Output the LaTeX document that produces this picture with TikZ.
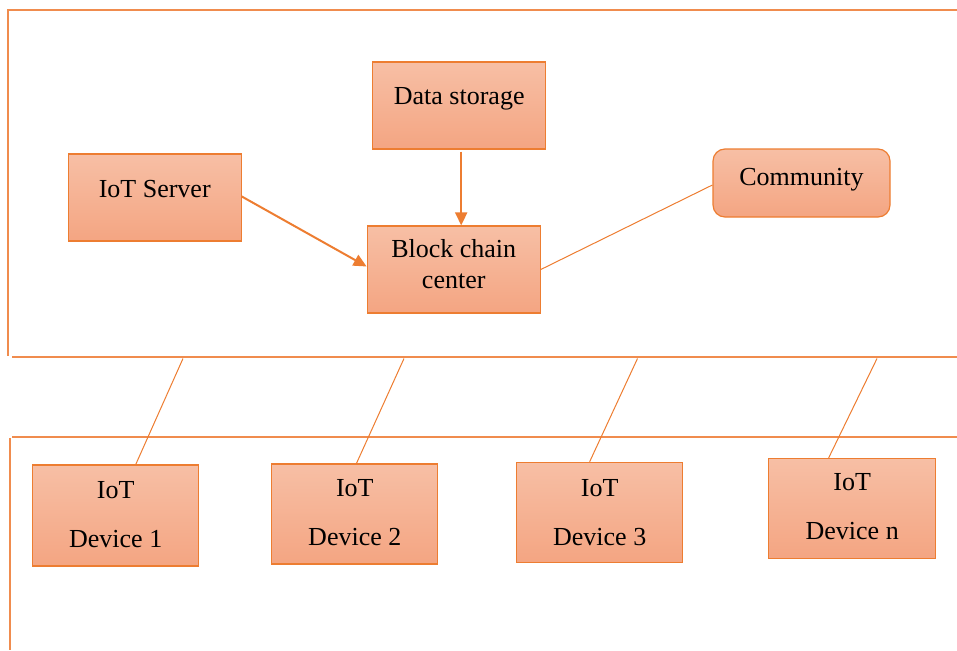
\documentclass[tikz,border=0pt]{standalone}
\usepackage{fontspec}
\setmainfont{Liberation Serif}
\usetikzlibrary{arrows.meta,calc}
\definecolor{edge}{HTML}{ED7D31}
\definecolor{frameline}{HTML}{F08C4E}
\definecolor{filltop}{HTML}{F7BFA5}
\definecolor{fillbot}{HTML}{F4A582}

\begin{document}
\begin{tikzpicture}[x=1pt,y=-1pt,
  box/.style={draw=edge, line width=1.2pt, top color=filltop, bottom color=fillbot,
    inner sep=0pt, align=center, font=\fontsize{26}{31}\selectfont},
  dev/.style={box, font=\fontsize{26}{49}\selectfont, text depth=8pt},
  frame/.style={draw=frameline, line width=1.1pt},
  link/.style={draw=edge, line width=1pt},
  arr/.style={draw=edge, line width=2pt, -{Triangle[length=13pt,width=12pt]}}]

\useasboundingbox (0,0) rectangle (957,650);

% upper and lower panels
\draw[frame] (957,10) -- (8,10) -- (8,356);
\draw[frame] (12,357) -- (957,357);
\draw[frame] (12,437) -- (957,437);
\draw[frame] (10,438) -- (10,650);

% upper panel boxes
\node[box, minimum width=173pt, minimum height=87pt, text height=18pt, text depth=19pt] (ds) at (459.2,105.5) {Data storage};
\node[box, minimum width=173pt, minimum height=87pt, text height=18pt, text depth=19pt] (srv) at (154.7,197.5) {IoT Server};
\node[box, minimum width=173pt, minimum height=87pt, text height=45pt, text depth=8pt] (bc) at (453.7,269.5) {Block chain\\center};
\node[box, rounded corners=12pt, minimum width=177pt, minimum height=68pt, text height=18pt, text depth=14pt] (cm) at (801.5,183) {Community};

% devices
\node[dev, minimum width=166pt, minimum height=101pt, text height=71pt] (d1) at (115.7,515.5) {IoT\\Device 1};
\node[dev, minimum width=166pt, minimum height=100pt, text height=71.4pt] (d2) at (354.8,514) {IoT\\Device 2};
\node[dev, minimum width=166pt, minimum height=100pt, text height=73.4pt] (d3) at (599.7,512.3) {IoT\\Device 3};
\node[dev, minimum width=167pt, minimum height=100pt, text height=69pt] (dn) at (852.2,508.5) {IoT\\Device n};

% links from the upper panel down to the devices
\coordinate (t1) at (183,358.5);
\coordinate (t2) at (404,358.5);
\coordinate (t3) at (637.5,358.5);
\coordinate (t4) at (877,358.5);
\draw[link] (t1) -- ($(d1.north west)!0.62!(d1.north east)$);
\draw[link] (t2) -- ($(d2.north west)!0.51!(d2.north east)$);
\draw[link] (t3) -- ($(d3.north west)!0.44!(d3.north east)$);
\draw[link] (t4) -- ($(dn.north west)!0.36!(dn.north east)$);

% flows into the block chain center
\coordinate (dsx) at ([xshift=2pt,yshift=-2pt]ds.south);
\draw[arr] ([yshift=1pt]srv.east) -- ([yshift=3pt]bc.west);
\draw[arr] (dsx) -- (dsx |- bc.north);
\draw[link] (bc.east) -- ([yshift=-2pt]cm.west);
\end{tikzpicture}
\end{document}
